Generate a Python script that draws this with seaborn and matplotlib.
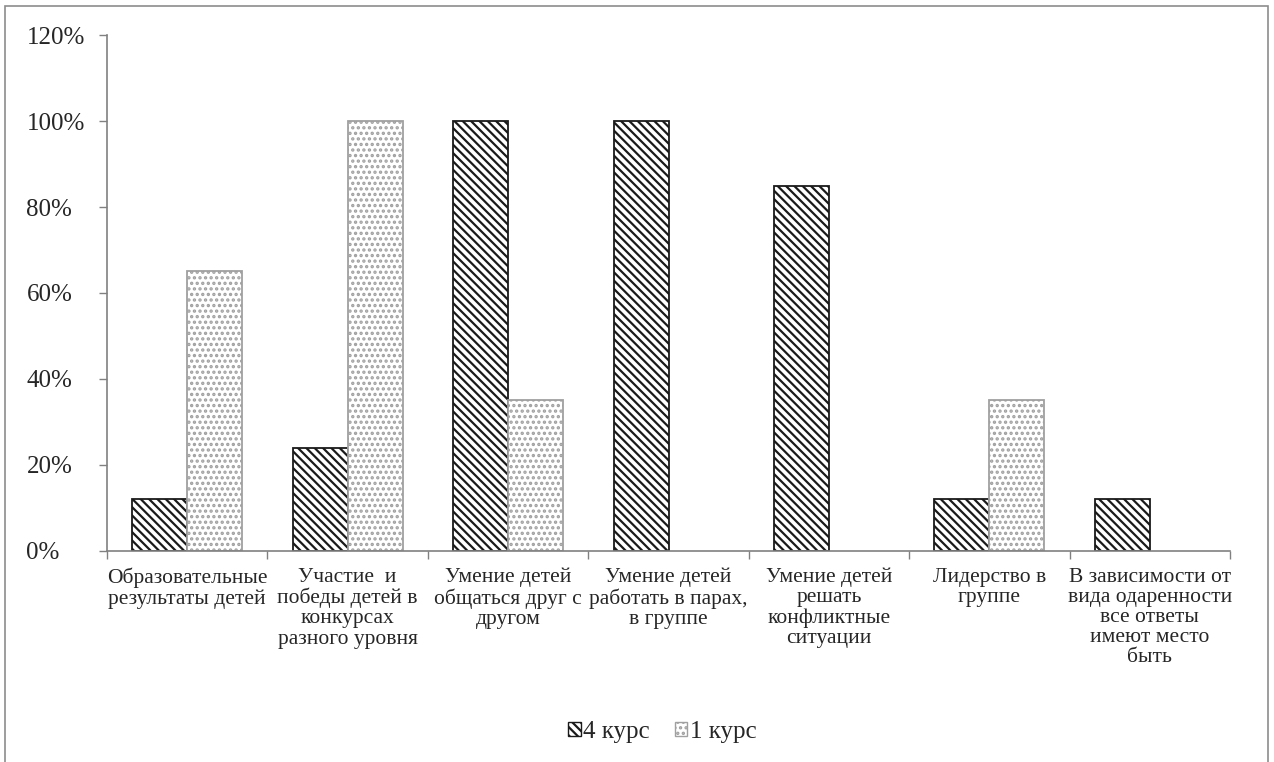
import matplotlib
matplotlib.use('Agg')
import matplotlib.pyplot as plt
import pandas as pd
import seaborn as sns
from matplotlib.patches import Rectangle, Patch
from matplotlib.ticker import FixedLocator

categories = [
    'Образовательные\nрезультаты детей',
    'Участие  и\nпобеды детей в\nконкурсах\nразного уровня',
    'Умение детей\nобщаться друг с\nдругом',
    'Умение детей\nработать в парах,\nв группе',
    'Умение детей\nрешать\nконфликтные\nситуации',
    'Лидерство в\nгруппе',
    'В зависимости от\nвида одаренности\nвсе ответы\nимеют место\nбыть',
]
course4 = [12, 24, 100, 100, 85, 12, 12]
course1 = [65, 100, 35, 0, 0, 35, 0]
series = ['4 курс', '1 курс']
y_ticks = [0, 20, 40, 60, 80, 100, 120]

df = pd.DataFrame({
    'category': categories * 2,
    'value': course4 + course1,
    'series': [series[0]] * len(categories) + [series[1]] * len(categories),
})

sns.set_style('white')
plt.rcParams['font.family'] = ['Liberation Serif', 'DejaVu Serif']
plt.rcParams['hatch.linewidth'] = 1.6

fig = plt.figure(figsize=(12.74, 7.62), dpi=100)
ax = fig.add_axes([0.084, 0.277, 0.8815, 0.677])

sns.barplot(data=df, x='category', y='value', hue='series', order=categories,
            hue_order=series, palette=['white', 'white'], width=0.686,
            saturation=1, ax=ax, legend=False)

styles = {series[0]: ('\\\\\\\\', '#1a1a1a'), series[1]: ('...', '#a0a0a0')}
n = len(categories)
for i, bar in enumerate(ax.patches[:2 * n]):
    hatch, ec = styles[series[i // n]]
    bar.set_hatch(hatch)
    bar.set_edgecolor(ec)
    bar.set_linewidth(1.3)
    if bar.get_height() == 0:
        bar.set_visible(False)

ax.set_ylim(0, 120)
ax.set_yticks(y_ticks)
ax.set_yticklabels([f'{v}%' for v in y_ticks], ha='left', fontsize=18)
ax.set_xlim(-0.5, n - 0.5)
ax.xaxis.set_minor_locator(FixedLocator([i - 0.5 for i in range(n + 1)]))
ax.tick_params(axis='x', which='major', length=0, pad=12, labelsize=15.5)
ax.tick_params(axis='x', which='minor', length=6, color='#808080', width=1, direction='out', bottom=True)
ax.tick_params(axis='y', length=6, color='#808080', width=1, direction='out', left=True, pad=52)
for lab in ax.get_xticklabels():
    lab.set_linespacing(1.08)

ax.set_xlabel('')
ax.set_ylabel('')
for side in ['top', 'right']:
    ax.spines[side].set_visible(False)
for side in ['left', 'bottom']:
    ax.spines[side].set_color('#808080')
    ax.spines[side].set_linewidth(1.2)

handles = [Patch(facecolor='white', edgecolor=styles[s][1], hatch=styles[s][0], label=s) for s in series]
fig.legend(handles=handles, loc='center', bbox_to_anchor=(0.52, 0.04), ncol=2, frameon=False,
           fontsize=18, handlelength=0.5, handleheight=0.5, handletextpad=0.1, columnspacing=1.0)

fig.add_artist(Rectangle((5 / 1274, -0.01), 1263 / 1274, 1 - 6 / 762 + 0.01, transform=fig.transFigure,
                         fill=False, edgecolor='#8c8c8c', linewidth=1.2))

fig.savefig('out.png', dpi=100)
